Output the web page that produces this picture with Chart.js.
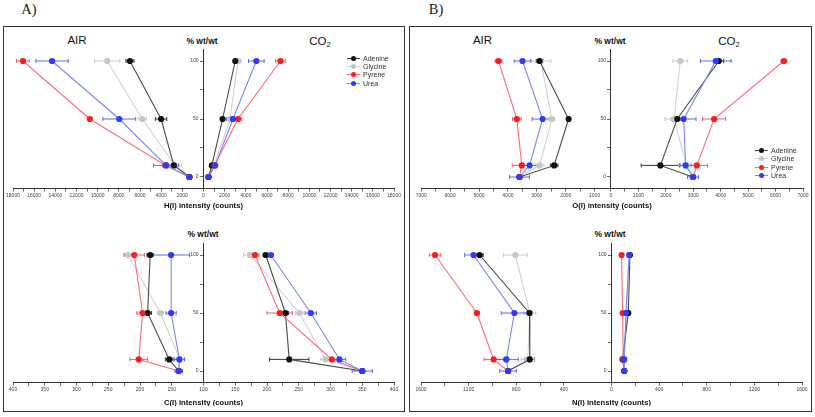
<!DOCTYPE html>
<html><head><meta charset="utf-8">
<script src="https://cdn.jsdelivr.net/npm/chart.js@4/dist/chart.umd.min.js"></script>
<style>
html,body{margin:0;padding:0;background:#fff;}
body{width:815px;height:417px;position:relative;overflow:hidden;font-family:"Liberation Sans",Arial,sans-serif;}
.box{position:absolute;border:1px solid #333;box-sizing:border-box;}
.t{position:absolute;white-space:nowrap;color:#111;transform:translate(-50%,-50%);line-height:1;}
canvas{position:absolute;}
.lg{position:absolute;font-size:7px;color:#333;line-height:1;}
.lg .row{position:absolute;left:0;white-space:nowrap;height:8px;}
.lg .ln{position:absolute;left:0;top:3.5px;width:13px;height:1px;}
.lg .dt{position:absolute;left:4px;top:1.5px;width:5px;height:5px;border-radius:50%;}
.lg .tx{position:absolute;left:16px;top:0.5px;}
</style></head><body>

<div class="box" style="left:3px;top:26px;width:402px;height:386px"></div>
<div class="box" style="left:409px;top:26px;width:403px;height:386px"></div>
<div class="t" style="left:29px;top:9px;font-family:'Liberation Serif','Times New Roman',serif;font-size:14.5px;color:#222">A)</div>
<div class="t" style="left:436px;top:9px;font-family:'Liberation Serif','Times New Roman',serif;font-size:14.5px;color:#222">B)</div>

<div class="t" style="left:77px;top:41px;font-size:11.5px">AIR</div>
<div class="t" style="left:320px;top:42px;font-size:11.5px">CO<sub style="font-size:7.5px;vertical-align:-2px">2</sub></div>
<div class="t" style="left:202px;top:41px;font-size:8.5px;font-weight:bold">% wt/wt</div>
<div class="t" style="left:203px;top:234px;font-size:8.5px;font-weight:bold">% wt/wt</div>
<div class="t" style="left:482.5px;top:41px;font-size:11.5px">AIR</div>
<div class="t" style="left:729px;top:42px;font-size:11.5px">CO<sub style="font-size:7.5px;vertical-align:-2px">2</sub></div>
<div class="t" style="left:610px;top:41px;font-size:8.5px;font-weight:bold">% wt/wt</div>
<div class="t" style="left:610px;top:234px;font-size:8.5px;font-weight:bold">% wt/wt</div>

<canvas id="cH" width="430" height="183" style="left:-12px;top:30px"></canvas>
<canvas id="cC" width="430" height="183" style="left:-12px;top:223px"></canvas>
<canvas id="cO" width="430" height="183" style="left:396px;top:30px"></canvas>
<canvas id="cN" width="430" height="183" style="left:396px;top:223px"></canvas>

<div class="lg" id="lgA" style="left:347px;top:54px"></div>
<div class="lg" id="lgB" style="left:755px;top:146.5px"></div>

<script>
// ---------- DATA ----------
const PCT = [100, 50, 10, 0];
const SERIES = ['Adenine', 'Glycine', 'Pyrene', 'Urea'];

// H(I) intensity (counts)
const H_AIR_ADENINE = [6950, 4010, 2800, 1330];
const H_AIR_ADENINE_ERR = [380, 540, 250, 0];
const H_AIR_GLYCINE = [9100, 5780, 2690, 1330];
const H_AIR_GLYCINE_ERR = [1200, 400, 600, 0];
const H_AIR_PYRENE = [17060, 10740, 3570, 1330];
const H_AIR_PYRENE_ERR = [600, 150, 300, 0];
const H_AIR_UREA = [14310, 7960, 3540, 1330];
const H_AIR_UREA_ERR = [1530, 1550, 1190, 120];
const H_CO2_ADENINE = [3000, 1800, 790, 470];
const H_CO2_ADENINE_ERR = [150, 150, 100, 0];
const H_CO2_GLYCINE = [3260, 2500, 1000, 470];
const H_CO2_GLYCINE_ERR = [300, 500, 150, 0];
const H_CO2_PYRENE = [7270, 3260, 1040, 470];
const H_CO2_PYRENE_ERR = [450, 350, 100, 0];
const H_CO2_UREA = [4990, 2780, 1100, 470];
const H_CO2_UREA_ERR = [740, 600, 150, 80];

// C(I) intensity (counts)
const C_AIR_ADENINE = [184, 188, 154, 139];
const C_AIR_ADENINE_ERR = [5, 6, 6, 0];
const C_AIR_GLYCINE = [219, 168, 137, 139];
const C_AIR_GLYCINE_ERR = [6, 5, 8, 0];
const C_AIR_PYRENE = [209, 196, 202, 139];
const C_AIR_PYRENE_ERR = [16, 9, 14, 0];
const C_AIR_UREA = [151, 151, 138, 139];
const C_AIR_UREA_ERR = [29, 8, 8, 6];
const C_CO2_ADENINE = [198, 229, 235, 350];
const C_CO2_ADENINE_ERR = [4, 5, 31, 0];
const C_CO2_GLYCINE = [173, 251, 292, 350];
const C_CO2_GLYCINE_ERR = [10, 6, 8, 0];
const C_CO2_PYRENE = [181, 220, 302, 350];
const C_CO2_PYRENE_ERR = [6, 20, 13, 0];
const C_CO2_UREA = [206, 269, 314, 350];
const C_CO2_UREA_ERR = [4, 9, 10, 16];

// O(I) intensity (counts)
const O_AIR_ADENINE = [2905, 1900, 2400, 3600];
const O_AIR_ADENINE_ERR = [115, 60, 130, 0];
const O_AIR_GLYCINE = [2860, 2480, 2900, 3600];
const O_AIR_GLYCINE_ERR = [350, 100, 150, 0];
const O_AIR_PYRENE = [4325, 3690, 3520, 3600];
const O_AIR_PYRENE_ERR = [120, 150, 330, 0];
const O_AIR_UREA = [3495, 2800, 3250, 3600];
const O_AIR_UREA_ERR = [290, 360, 290, 345];
const O_CO2_ADENINE = [3930, 2415, 1800, 2990];
const O_CO2_ADENINE_ERR = [180, 100, 700, 0];
const O_CO2_GLYCINE = [2525, 2300, 2750, 2990];
const O_CO2_GLYCINE_ERR = [270, 330, 280, 0];
const O_CO2_PYRENE = [6300, 3760, 3130, 2990];
const O_CO2_PYRENE_ERR = [100, 420, 390, 0];
const O_CO2_UREA = [3820, 2650, 2720, 2990];
const O_CO2_UREA_ERR = [560, 450, 200, 200];

// N(I) intensity (counts)
const N_AIR_ADENINE = [1108, 689, 686, 869];
const N_AIR_ADENINE_ERR = [30, 20, 40, 0];
const N_AIR_GLYCINE = [807, 686, 703, 869];
const N_AIR_GLYCINE_ERR = [100, 50, 55, 0];
const N_AIR_PYRENE = [1482, 1131, 990, 869];
const N_AIR_PYRENE_ERR = [48, 20, 80, 0];
const N_AIR_UREA = [1159, 816, 883, 869];
const N_AIR_UREA_ERR = [75, 110, 100, 70];
const N_CO2_ADENINE = [155, 141, 93, 107];
const N_CO2_ADENINE_ERR = [8, 8, 8, 0];
const N_CO2_GLYCINE = [144, 127, 104, 107];
const N_CO2_GLYCINE_ERR = [8, 8, 8, 0];
const N_CO2_PYRENE = [85, 93, 99, 107];
const N_CO2_PYRENE_ERR = [6, 6, 6, 0];
const N_CO2_UREA = [149, 121, 107, 107];
const N_CO2_UREA_ERR = [8, 10, 8, 8];

// tick labels
const H_TICKS = [0, 2000, 4000, 6000, 8000, 10000, 12000, 14000, 16000, 18000];
const C_TICKS = [100, 150, 200, 250, 300, 350, 400];
const O_TICKS = [0, 1000, 2000, 3000, 4000, 5000, 6000, 7000];
const N_TICKS = [0, 400, 800, 1200, 1600];
const Y_TICKS = [0, 50, 100];

// ---------- STYLE ----------
const FAMILY = '"Liberation Sans", Arial, sans-serif';
const STYLE = {
  Adenine: {marker: '#111111', line: '#4a4a4a', err: '#222222', order: 2},
  Glycine: {marker: '#c6c6c6', line: '#d2d2d2', err: '#c4c4c4', order: 3},
  Pyrene:  {marker: '#ff1c1c', line: '#ff6b7b', err: '#ff4a5a', order: 1},
  Urea:    {marker: '#2b3bff', line: '#7b86ff', err: '#4a5aff', order: 0}
};

function ticksFor(labels, airMap, co2Map, fmt) {
  const out = [];
  const step = labels[1] - labels[0];
  labels.forEach((v, i) => {
    out.push({x: co2Map(v), label: fmt(v)});
    if (i > 0) out.push({x: airMap(v), label: fmt(v)});
    if (i < labels.length - 1) {
      out.push({x: co2Map(v + step / 2), label: ''});
      if (i > 0) out.push({x: airMap(v + step / 2), label: ''});
    }
  });
  return out;
}

function build(id, spec) {
  const errInfo = [];
  const datasets = [];
  ['air', 'co2'].forEach(side => {
    const map = side === 'air' ? spec.airMap : spec.co2Map;
    SERIES.forEach((name, si) => {
      const vals = spec[side][si][0], errs = spec[side][si][1];
      const st = STYLE[name];
      errInfo.push({map, vals, errs, color: st.err});
      datasets.push({
        label: name,
        data: vals.map((v, i) => ({x: map(v), y: PCT[i]})),
        borderColor: st.line, backgroundColor: st.marker,
        pointBackgroundColor: st.marker, pointBorderColor: st.marker,
        pointRadius: 3.1, pointBorderWidth: 0, borderWidth: 1.1,
        showLine: true, fill: false, tension: 0, order: st.order
      });
    });
  });
  const xt = spec.ticks;
  const errPlugin = {
    id: 'errbars_' + id,
    beforeDatasetsDraw(chart) {
      const ctx = chart.ctx, xs = chart.scales.x, ys = chart.scales.y;
      errInfo.forEach(info => {
        ctx.save();
        ctx.strokeStyle = info.color; ctx.lineWidth = 0.9;
        info.vals.forEach((v, i) => {
          const e = info.errs[i];
          if (!e) return;
          const x1 = xs.getPixelForValue(info.map(v - e));
          const x2 = xs.getPixelForValue(info.map(v + e));
          const y = ys.getPixelForValue(PCT[i]);
          ctx.beginPath();
          ctx.moveTo(x1, y); ctx.lineTo(x2, y);
          ctx.moveTo(x1, y - 2); ctx.lineTo(x1, y + 2);
          ctx.moveTo(x2, y - 2); ctx.lineTo(x2, y + 2);
          ctx.stroke();
        });
        ctx.restore();
      });
    },
    afterDraw(chart) {
      // y tick labels, placed to the left of the centre axis line
      const ctx = chart.ctx, xs = chart.scales.x, ys = chart.scales.y;
      const ax = xs.getPixelForValue(0);
      ctx.save();
      ctx.font = '5px ' + FAMILY;
      ctx.fillStyle = '#444';
      ctx.textAlign = 'right';
      ctx.textBaseline = 'middle';
      Y_TICKS.forEach(v => ctx.fillText(String(v), ax - 5, ys.getPixelForValue(v)));
      ctx.restore();
    }
  };
  const canvas = document.getElementById(id);
  const W = canvas.width, Hh = canvas.height;
  const r = spec.rect, a = spec.area;
  return new Chart(canvas, {
    type: 'line',
    data: {datasets},
    options: {
      responsive: false, animation: false, devicePixelRatio: 1,
      layout: {padding: {left: a.l - r.x, right: r.x + W - a.r, top: a.t - r.y, bottom: r.y + Hh - a.b - spec.axisH}},
      plugins: {legend: {display: false}, tooltip: {enabled: false}},
      scales: {
        x: {
          type: 'linear', min: spec.xmin, max: spec.xmax,
          afterBuildTicks: s => { s.ticks = xt.map(t => ({value: t.x, lab: t.label})); },
          afterFit: s => { s.height = spec.axisH; },
          ticks: {autoSkip: false, maxRotation: 0, minRotation: 0, padding: 1,
                  font: {size: 5, family: FAMILY}, color: '#444',
                  callback: (v, i, t) => (t && t[i] && t[i].lab != null) ? t[i].lab : ''},
          grid: {drawOnChartArea: false, drawTicks: true, tickLength: 3, color: '#444', tickColor: '#444', tickWidth: 0.8},
          border: {display: true, color: '#333', width: 1},
          title: {display: true, text: spec.title, font: {size: 7.7, weight: 'bold', family: FAMILY}, color: '#111', padding: {top: 0, bottom: 0}}
        },
        y: {
          type: 'linear', position: {x: 0}, min: -10, max: 110,
          afterBuildTicks: s => { s.ticks = [0, 25, 50, 75, 100].map(v => ({value: v})); },
          ticks: {display: false, autoSkip: false},
          grid: {drawOnChartArea: false, drawTicks: true, tickLength: 3, color: '#444', tickColor: '#444', tickWidth: 0.8},
          border: {display: true, color: '#333', width: 1}
        }
      }
    },
    plugins: [errPlugin]
  });
}

const fmtInt = v => String(v);
const negMap = v => -v, posMap = v => v;

// H
build('cH', {
  rect: {x: -12, y: 30}, area: {l: 13, r: 394, t: 49.4, b: 188.6}, axisH: 22,
  xmin: -18000, xmax: 18000, airMap: negMap, co2Map: posMap,
  ticks: ticksFor(H_TICKS, negMap, posMap, fmtInt),
  title: 'H(I) intensity (counts)',
  air: [[H_AIR_ADENINE, H_AIR_ADENINE_ERR], [H_AIR_GLYCINE, H_AIR_GLYCINE_ERR], [H_AIR_PYRENE, H_AIR_PYRENE_ERR], [H_AIR_UREA, H_AIR_UREA_ERR]],
  co2: [[H_CO2_ADENINE, H_CO2_ADENINE_ERR], [H_CO2_GLYCINE, H_CO2_GLYCINE_ERR], [H_CO2_PYRENE, H_CO2_PYRENE_ERR], [H_CO2_UREA, H_CO2_UREA_ERR]]
});

// C
const cAir = v => -(v - 100), cCo2 = v => v - 100;
build('cC', {
  rect: {x: -12, y: 223}, area: {l: 13, r: 394, t: 243.4, b: 382.6}, axisH: 25,
  xmin: -300, xmax: 300, airMap: cAir, co2Map: cCo2,
  ticks: ticksFor(C_TICKS, cAir, cCo2, fmtInt),
  title: 'C(I) intensity (counts)',
  air: [[C_AIR_ADENINE, C_AIR_ADENINE_ERR], [C_AIR_GLYCINE, C_AIR_GLYCINE_ERR], [C_AIR_PYRENE, C_AIR_PYRENE_ERR], [C_AIR_UREA, C_AIR_UREA_ERR]],
  co2: [[C_CO2_ADENINE, C_CO2_ADENINE_ERR], [C_CO2_GLYCINE, C_CO2_GLYCINE_ERR], [C_CO2_PYRENE, C_CO2_PYRENE_ERR], [C_CO2_UREA, C_CO2_UREA_ERR]]
});

// O (left AIR axis in the original is slightly offset from the centre line)
const oAir = v => 455.7 - 1.0536 * v;
build('cO', {
  rect: {x: 396, y: 30}, area: {l: 421, r: 803, t: 49.4, b: 188.6}, axisH: 22,
  xmin: -6927, xmax: 7000, airMap: oAir, co2Map: posMap,
  ticks: ticksFor(O_TICKS, oAir, posMap, fmtInt).filter(t => !(t.label === '' && Math.abs(t.x) < 200)),
  title: 'O(I) intensity (counts)',
  air: [[O_AIR_ADENINE, O_AIR_ADENINE_ERR], [O_AIR_GLYCINE, O_AIR_GLYCINE_ERR], [O_AIR_PYRENE, O_AIR_PYRENE_ERR], [O_AIR_UREA, O_AIR_UREA_ERR]],
  co2: [[O_CO2_ADENINE, O_CO2_ADENINE_ERR], [O_CO2_GLYCINE, O_CO2_GLYCINE_ERR], [O_CO2_PYRENE, O_CO2_PYRENE_ERR], [O_CO2_UREA, O_CO2_UREA_ERR]]
});

// N
build('cN', {
  rect: {x: 396, y: 223}, area: {l: 421, r: 802, t: 243.4, b: 382.6}, axisH: 25,
  xmin: -1600, xmax: 1600, airMap: negMap, co2Map: posMap,
  ticks: ticksFor(N_TICKS, negMap, posMap, fmtInt),
  title: 'N(I) intensity (counts)',
  air: [[N_AIR_ADENINE, N_AIR_ADENINE_ERR], [N_AIR_GLYCINE, N_AIR_GLYCINE_ERR], [N_AIR_PYRENE, N_AIR_PYRENE_ERR], [N_AIR_UREA, N_AIR_UREA_ERR]],
  co2: [[N_CO2_ADENINE, N_CO2_ADENINE_ERR], [N_CO2_GLYCINE, N_CO2_GLYCINE_ERR], [N_CO2_PYRENE, N_CO2_PYRENE_ERR], [N_CO2_UREA, N_CO2_UREA_ERR]]
});

// legends
function legend(id) {
  const el = document.getElementById(id);
  SERIES.forEach((name, i) => {
    const st = STYLE[name];
    const row = document.createElement('div');
    row.className = 'row';
    row.style.top = (i * 8.45) + 'px';
    row.innerHTML = '<div class="ln" style="background:' + st.line + '"></div><div class="dt" style="background:' + st.marker + '"></div><div class="tx">' + name + '</div>';
    el.appendChild(row);
  });
}
legend('lgA'); legend('lgB');
</script>
</body></html>
